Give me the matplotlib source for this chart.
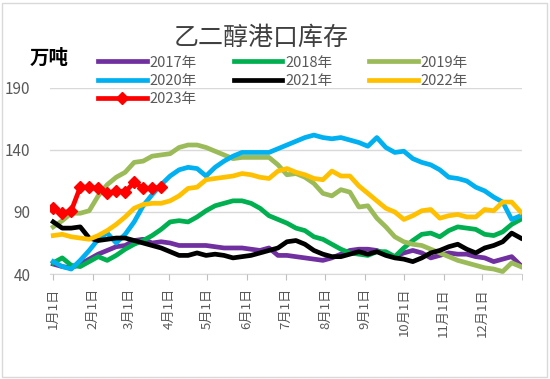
import numpy as np
import matplotlib
matplotlib.use("Agg")
import matplotlib.pyplot as plt
from matplotlib.patches import Rectangle

plt.rcParams['font.family'] = ['Noto Sans CJK SC', 'DejaVu Sans']

# weekly port inventory, 10k tonnes (week 0 = Jan 1)
y2017 = [48, 46, 45, 48, 52, 56, 59, 62, 63, 67, 68, 65, 66, 65, 63, 63, 63, 63, 62, 61,
         61, 61, 60, 59, 61, 55, 55, 54, 53, 52, 51, 53, 56, 59, 60, 60, 59, 56, 54, 57,
         59, 57, 53, 55, 57, 56, 56, 54, 53, 50, 52, 54, 47]
y2018 = [49, 53, 47, 46, 50, 54, 51, 55, 60, 64, 67, 71, 76, 82, 83, 82, 86, 91, 95, 97,
         99, 99, 97, 93, 87, 84, 81, 77, 75, 70, 68, 64, 60, 57, 56, 55, 58, 58, 54, 61,
         67, 72, 73, 70, 75, 78, 77, 76, 72, 71, 74, 80, 84]
y2019 = [78, 83, 89, 89, 91, 103, 112, 118, 122, 130, 131, 135, 136, 137, 142, 144, 144, 142, 139, 136,
         133, 134, 134, 134, 134, 128, 120, 121, 118, 113, 105, 103, 108, 106, 94, 95, 85, 78, 70, 66,
         64, 63, 60, 57, 54, 51, 49, 47, 45, 44, 42, 49, 46]
y2020 = [50, 46, 44, 51, 59, 68, 73, 65, 72, 82, 95, 104, 112, 119, 124, 126, 125, 119, 126, 131,
         135, 138, 138, 138, 138, 141, 144, 147, 150, 152, 150, 149, 150, 148, 146, 143, 150, 142, 138, 139,
         133, 130, 128, 124, 118, 117, 115, 110, 107, 102, 98, 84, 87]
y2021 = [82, 77, 77, 78, 69, 67, 68, 69, 69, 67, 65, 63, 61, 58, 55, 55, 57, 55, 56, 55,
         53, 54, 55, 57, 59, 61, 66, 67, 64, 59, 56, 54, 54, 56, 58, 56, 58, 55, 53, 52,
         50, 53, 57, 59, 62, 64, 60, 57, 61, 63, 66, 73, 69]
y2022 = [71, 72, 70, 69, 68, 71, 75, 80, 86, 93, 96, 97, 97, 99, 103, 109, 110, 116, 117, 118,
         119, 121, 120, 118, 117, 123, 125, 122, 120, 117, 116, 123, 119, 119, 111, 105, 99, 93, 90, 84,
         87, 91, 92, 85, 87, 88, 86, 86, 92, 91, 98, 98, 90]
y2023 = [93, 89, 91, 110, 110, 109, 105, 107, 106, 114, 109, 109, 110]

series = [("2017年", y2017, "#7030A0"), ("2018年", y2018, "#00B050"),
          ("2019年", y2019, "#9BBB59"), ("2020年", y2020, "#00B0F0"),
          ("2021年", y2021, "#000000"), ("2022年", y2022, "#FFC000")]

month_days = [0, 31, 59, 90, 120, 151, 181, 212, 243, 273, 304, 334]
month_labels = [f"{m}月1日" for m in range(1, 13)]

fig = plt.figure(figsize=(5.5, 3.79), dpi=100)
ax = fig.add_axes([0.091, 0.277, 0.858, 0.491])

handles = []
for name, vals, col in series:
    days = np.arange(len(vals)) * 7
    h, = ax.plot(days, vals, color=col, lw=3.4, label=name, solid_joinstyle='round')
    handles.append(h)
days23 = np.arange(len(y2023)) * 7
h, = ax.plot(days23, y2023, color="#FF0000", lw=3.4, marker="D", ms=6, label="2023年")
handles.append(h)

ax.set_xlim(-2.5, 365)
ax.set_ylim(40, 190)
ax.set_yticks([40, 90, 140, 190])
ax.set_xticks(month_days)
ax.set_xticklabels(month_labels, rotation=90, fontsize=9.5, color="#595959")
ax.set_xticks([365], minor=True)
ax.tick_params(axis='x', which='both', length=4, color="#BFBFBF", pad=6)
ax.tick_params(axis='y', length=0, labelsize=11, labelcolor="#595959", pad=14)
ax.grid(axis='y', color="#D9D9D9", lw=1)
ax.set_axisbelow(True)
for s in ["top", "right", "left"]:
    ax.spines[s].set_visible(False)
ax.spines["bottom"].set_color("#D9D9D9")
ax.spines["bottom"].set_zorder(0)

fig.text(0.475, 0.9, "乙二醇港口库存", ha="center", va="center", fontsize=18, color="#404040")
fig.text(0.09, 0.847, "万吨", ha="center", va="center", fontsize=14, fontweight="bold", color="#000000")

# legend filled row by row like the original (matplotlib fills by column)
order = [0, 3, 6, 1, 4, 2, 5]
fig.legend([handles[i] for i in order], [handles[i].get_label() for i in order],
           loc="upper left", bbox_to_anchor=(0.155, 0.888), ncol=3, frameon=False,
           fontsize=10.5, handlelength=3.3, handletextpad=0.2, columnspacing=2.55,
           labelspacing=0.3, labelcolor="#595959")

fig.add_artist(Rectangle((0.004, 0.006), 0.99, 0.985, transform=fig.transFigure,
                         fill=False, edgecolor="#D9D9D9", lw=1))

fig.savefig("out.png", dpi=100)
